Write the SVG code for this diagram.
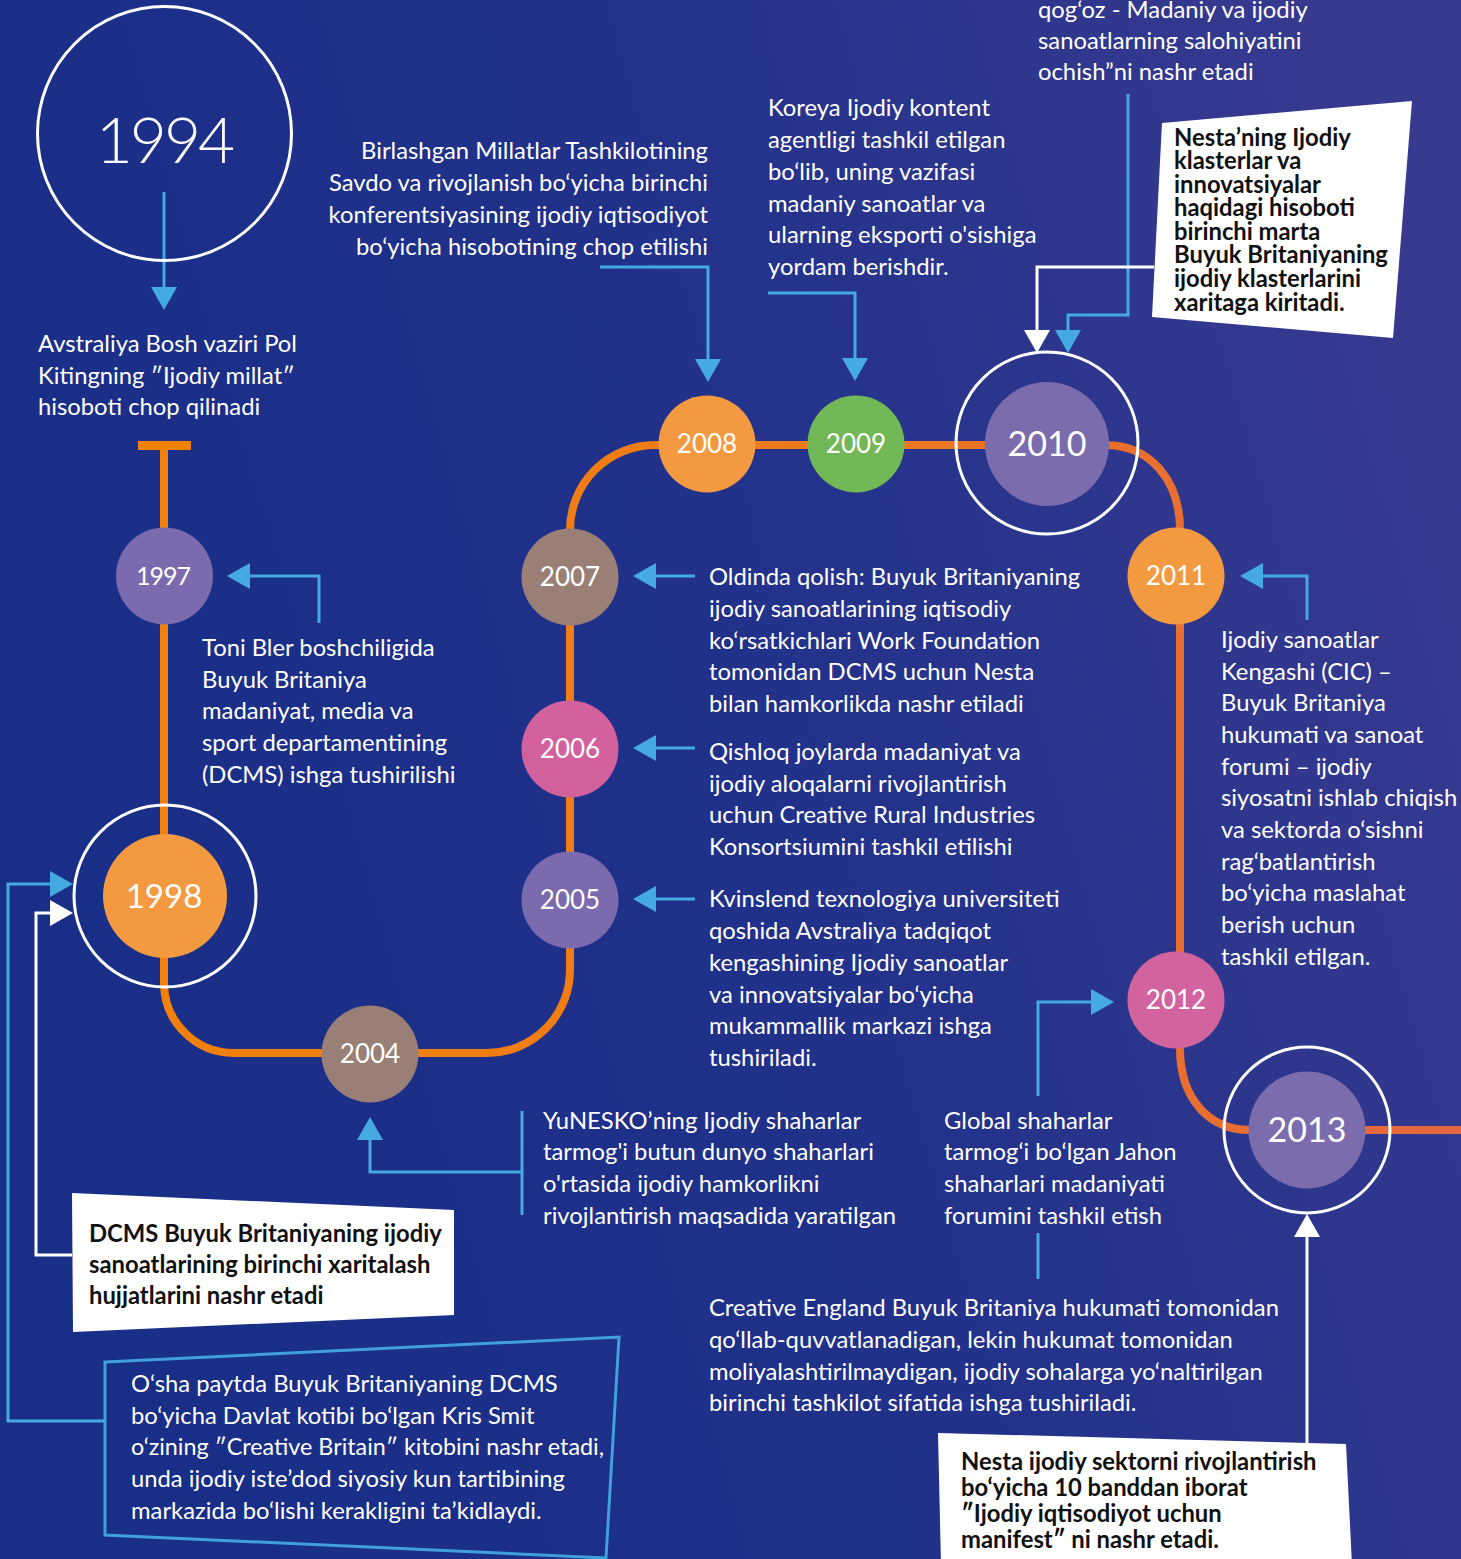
<svg xmlns="http://www.w3.org/2000/svg" width="1461" height="1559" viewBox="0 0 1461 1559">
<defs>
<linearGradient id="bg" x1="0" y1="0.6" x2="1" y2="0.3">
<stop offset="0" stop-color="#182e87"/>
<stop offset="0.5" stop-color="#21318a"/>
<stop offset="1" stop-color="#373a8f"/>
</linearGradient>
<linearGradient id="tl" gradientUnits="userSpaceOnUse" x1="0" y1="0" x2="1461" y2="0">
<stop offset="0" stop-color="#f28108"/>
<stop offset="0.5" stop-color="#ef7c18"/>
<stop offset="1" stop-color="#e4673f"/>
</linearGradient>
<marker id="ab" markerUnits="userSpaceOnUse" markerWidth="23" markerHeight="26" refX="0" refY="13" orient="auto" viewBox="0 0 23 26">
<path d="M0,0 L23,13 L0,26 Z" fill="#45aae0"/>
</marker>
<marker id="aw" markerUnits="userSpaceOnUse" markerWidth="23" markerHeight="26" refX="0" refY="13" orient="auto" viewBox="0 0 23 26">
<path d="M0,0 L23,13 L0,26 Z" fill="#ffffff"/>
</marker>
<style>
.t{font-family:Lato,"Open Sans","Liberation Sans",sans-serif;font-size:23.8px;fill:#ffffff}
.r{text-anchor:end}
.b{font-family:Lato,"Open Sans","Liberation Sans",sans-serif;font-size:23.8px;font-weight:700;fill:#111111}
.y{font-family:Lato,"Open Sans","Liberation Sans",sans-serif;fill:#ffffff;text-anchor:middle}
.bl{stroke:#45aae0;stroke-width:3;fill:none;marker-end:url(#ab)}
.bn{stroke:#45aae0;stroke-width:3;fill:none}
.wl{stroke:#ffffff;stroke-width:3;fill:none;marker-end:url(#aw)}
.wn{stroke:#ffffff;stroke-width:3;fill:none}
.ring{fill:none;stroke:#ffffff;stroke-width:3}
.tline{fill:none;stroke:url(#tl);stroke-width:8}
</style>
</defs>
<rect x="0" y="0" width="1461" height="1559" fill="url(#bg)"/>

<g id="timeline">
<path class="tline" d="M164,441 V983 A70,70 0 0 0 234,1053 H487 A83,83 0 0 0 570,970 V530 A85,85 0 0 1 655,445 H1105 C1150,445 1180,480 1180,530 V1048 C1180,1100 1210,1130 1250,1130 H1461"/>
<path d="M138,445.5 H191" stroke="#f28108" stroke-width="9" fill="none"/>
</g>

<g id="connectors">
<path class="bl" d="M164,192 V287"/>
<path class="bl" d="M600,267 H708 V359"/>
<path class="bl" d="M768,293 H855 V358"/>
<path class="bl" d="M1128,94 V315 H1068 V330"/>
<path class="wl" d="M1154,267 H1037 V330"/>
<path class="bl" d="M319,623 V576 H250"/>
<path class="bl" d="M695,576 H656"/>
<path class="bl" d="M695,748 H656"/>
<path class="bl" d="M695,899 H656"/>
<path class="bl" d="M1307,620 V576 H1263"/>
<path class="bl" d="M1038,1096 V1002 H1091"/>
<path class="bn" d="M1038,1233 V1279"/>
<path class="bn" d="M522,1111 V1215"/>
<path class="bl" d="M522,1172 H370 V1140"/>
<path class="bl" d="M105,1421 H8 V884 H50"/>
<path class="wl" d="M72,1255 H36 V913 H50"/>
<path class="wl" d="M1307,1443 V1237"/>
</g>

<g id="n1994">
<circle class="ring" cx="164.5" cy="133.5" r="127"/>
<text class="y" x="164" y="163" font-size="64" font-weight="300" letter-spacing="-3">1994</text>
</g>
<g id="n1997">
<circle cx="164.5" cy="576" r="48.5" fill="#7b6aae"/>
<text class="y" x="163" y="585" font-size="25" letter-spacing="-1">1997</text>
</g>
<g id="n1998">
<circle class="ring" cx="165" cy="896" r="91"/>
<circle cx="165" cy="896" r="62" fill="#f39a41"/>
<text class="y" x="164" y="908" font-size="33">1998</text>
</g>
<g id="n2004">
<circle cx="370" cy="1054" r="48.5" fill="#9a7f77"/>
<text class="y" x="370" y="1063" font-size="26">2004</text>
</g>
<g id="n2005">
<circle cx="570" cy="900" r="48.5" fill="#7b6aae"/>
<text class="y" x="570" y="909" font-size="26">2005</text>
</g>
<g id="n2006">
<circle cx="570" cy="749" r="48.5" fill="#d2619e"/>
<text class="y" x="570" y="758" font-size="26">2006</text>
</g>
<g id="n2007">
<circle cx="570" cy="577" r="48.5" fill="#9a7f77"/>
<text class="y" x="570" y="586" font-size="26">2007</text>
</g>
<g id="n2008">
<circle cx="707" cy="444" r="48.5" fill="#f39a41"/>
<text class="y" x="707" y="453" font-size="26">2008</text>
</g>
<g id="n2009">
<circle cx="856" cy="444" r="48.5" fill="#72b856"/>
<text class="y" x="856" y="453" font-size="26">2009</text>
</g>
<g id="n2010">
<circle class="ring" cx="1047" cy="443" r="91"/>
<circle cx="1047" cy="444" r="62" fill="#7b6cae"/>
<text class="y" x="1047" y="456" font-size="34">2010</text>
</g>
<g id="n2011">
<circle cx="1176" cy="576" r="48.5" fill="#f39a41"/>
<text class="y" x="1176" y="585" font-size="26">2011</text>
</g>
<g id="n2012">
<circle cx="1176" cy="1000" r="48.5" fill="#d2639f"/>
<text class="y" x="1176" y="1009" font-size="26">2012</text>
</g>
<g id="n2013">
<circle class="ring" cx="1307" cy="1130" r="83"/>
<circle cx="1307" cy="1130" r="58.5" fill="#7b6cae"/>
<text class="y" x="1307" y="1142" font-size="34">2013</text>
</g>

<g id="txt-1994">
<text class="t" x="38" y="352">Avstraliya Bosh vaziri Pol</text>
<text class="t" x="38" y="384">Kitingning ″Ijodiy millat″</text>
<text class="t" x="38" y="415">hisoboti chop qilinadi</text>
</g>
<g id="txt-2008">
<text class="t r" x="708" y="159">Birlashgan Millatlar Tashkilotining</text>
<text class="t r" x="708" y="191">Savdo va rivojlanish bo‘yicha birinchi</text>
<text class="t r" x="708" y="223">konferentsiyasining ijodiy iqtisodiyot</text>
<text class="t r" x="708" y="255">bo‘yicha hisobotining chop etilishi</text>
</g>
<g id="txt-2009">
<text class="t" x="768" y="116">Koreya Ijodiy kontent</text>
<text class="t" x="768" y="148">agentligi tashkil etilgan</text>
<text class="t" x="768" y="180">bo‘lib, uning vazifasi</text>
<text class="t" x="768" y="212">madaniy sanoatlar va</text>
<text class="t" x="768" y="243">ularning eksporti o'sishiga</text>
<text class="t" x="768" y="275">yordam berishdir.</text>
</g>
<g id="txt-2010a">
<text class="t" x="1038" y="18">qog‘oz - Madaniy va ijodiy</text>
<text class="t" x="1038" y="49">sanoatlarning salohiyatini</text>
<text class="t" x="1038" y="80">ochish”ni nashr etadi</text>
</g>
<g id="box-2010">
<polygon points="1162,123 1412,101 1393,338 1152,317" fill="#ffffff"/>
<text class="b" x="1174" y="146">Nesta’ning Ijodiy</text>
<text class="b" x="1174" y="169">klasterlar va</text>
<text class="b" x="1174" y="193">innovatsiyalar</text>
<text class="b" x="1174" y="216">haqidagi hisoboti</text>
<text class="b" x="1174" y="240">birinchi marta</text>
<text class="b" x="1174" y="263">Buyuk Britaniyaning</text>
<text class="b" x="1174" y="287">ijodiy klasterlarini</text>
<text class="b" x="1174" y="311">xaritaga kiritadi.</text>
</g>
<g id="txt-1997">
<text class="t" x="202" y="656">Toni Bler boshchiligida</text>
<text class="t" x="202" y="688">Buyuk Britaniya</text>
<text class="t" x="202" y="719">madaniyat, media va</text>
<text class="t" x="202" y="751">sport departamentining</text>
<text class="t" x="202" y="783">(DCMS) ishga tushirilishi</text>
</g>
<g id="txt-2007">
<text class="t" x="709" y="585">Oldinda qolish: Buyuk Britaniyaning</text>
<text class="t" x="709" y="617">ijodiy sanoatlarining iqtisodiy</text>
<text class="t" x="709" y="649">ko‘rsatkichlari Work Foundation</text>
<text class="t" x="709" y="680">tomonidan DCMS uchun Nesta</text>
<text class="t" x="709" y="712">bilan hamkorlikda nashr etiladi</text>
</g>
<g id="txt-2006">
<text class="t" x="709" y="760">Qishloq joylarda madaniyat va</text>
<text class="t" x="709" y="792">ijodiy aloqalarni rivojlantirish</text>
<text class="t" x="709" y="823">uchun Creative Rural Industries</text>
<text class="t" x="709" y="855">Konsortsiumini tashkil etilishi</text>
</g>
<g id="txt-2005">
<text class="t" x="709" y="907">Kvinslend texnologiya universiteti</text>
<text class="t" x="709" y="939">qoshida Avstraliya tadqiqot</text>
<text class="t" x="709" y="971">kengashining Ijodiy sanoatlar</text>
<text class="t" x="709" y="1003">va innovatsiyalar bo‘yicha</text>
<text class="t" x="709" y="1034">mukammallik markazi ishga</text>
<text class="t" x="709" y="1066">tushiriladi.</text>
</g>
<g id="txt-2011">
<text class="t" x="1221" y="648">Ijodiy sanoatlar</text>
<text class="t" x="1221" y="680">Kengashi (CIC) –</text>
<text class="t" x="1221" y="711">Buyuk Britaniya</text>
<text class="t" x="1221" y="743">hukumati va sanoat</text>
<text class="t" x="1221" y="775">forumi – ijodiy</text>
<text class="t" x="1221" y="806">siyosatni ishlab chiqish</text>
<text class="t" x="1221" y="838">va sektorda o‘sishni</text>
<text class="t" x="1221" y="870">rag‘batlantirish</text>
<text class="t" x="1221" y="901">bo‘yicha maslahat</text>
<text class="t" x="1221" y="933">berish uchun</text>
<text class="t" x="1221" y="965">tashkil etilgan.</text>
</g>
<g id="txt-2004">
<text class="t" x="543" y="1129">YuNESKO’ning Ijodiy shaharlar</text>
<text class="t" x="543" y="1160">tarmog'i butun dunyo shaharlari</text>
<text class="t" x="543" y="1192">o'rtasida ijodiy hamkorlikni</text>
<text class="t" x="543" y="1224">rivojlantirish maqsadida yaratilgan</text>
</g>
<g id="txt-2012">
<text class="t" x="944" y="1129">Global shaharlar</text>
<text class="t" x="944" y="1160">tarmog‘i bo‘lgan Jahon</text>
<text class="t" x="944" y="1192">shaharlari madaniyati</text>
<text class="t" x="944" y="1224">forumini tashkil etish</text>
</g>
<g id="txt-2012b">
<text class="t" x="709" y="1316">Creative England Buyuk Britaniya hukumati tomonidan</text>
<text class="t" x="709" y="1348">qo‘llab-quvvatlanadigan, lekin hukumat tomonidan</text>
<text class="t" x="709" y="1380">moliyalashtirilmaydigan, ijodiy sohalarga yo‘naltirilgan</text>
<text class="t" x="709" y="1411">birinchi tashkilot sifatida ishga tushiriladi.</text>
</g>
<g id="box-1998a">
<polygon points="72,1193 454,1210 454,1315 73,1332" fill="#ffffff"/>
<text class="b" x="89" y="1242">DCMS Buyuk Britaniyaning ijodiy</text>
<text class="b" x="89" y="1273">sanoatlarining birinchi xaritalash</text>
<text class="b" x="89" y="1304">hujjatlarini nashr etadi</text>
</g>
<g id="box-1998b">
<polygon points="105,1362 619,1337 606,1558 105,1535" fill="none" stroke="#3fa0dc" stroke-width="3"/>
<text class="t" x="131" y="1392">O‘sha paytda Buyuk Britaniyaning DCMS</text>
<text class="t" x="131" y="1424">bo‘yicha Davlat kotibi bo‘lgan Kris Smit</text>
<text class="t" x="131" y="1455" textLength="473" lengthAdjust="spacingAndGlyphs">o‘zining ″Creative Britain″ kitobini nashr etadi,</text>
<text class="t" x="131" y="1487">unda ijodiy iste’dod siyosiy kun tartibining</text>
<text class="t" x="131" y="1519">markazida bo‘lishi kerakligini ta’kidlaydi.</text>
</g>
<g id="box-2013">
<polygon points="938,1433 1346,1444 1352,1565 941,1565" fill="#ffffff"/>
<text class="b" x="961" y="1470">Nesta ijodiy sektorni rivojlantirish</text>
<text class="b" x="961" y="1496">bo‘yicha 10 banddan iborat</text>
<text class="b" x="961" y="1522">″Ijodiy iqtisodiyot uchun</text>
<text class="b" x="961" y="1548">manifest″ ni nashr etadi.</text>
</g>
</svg>
